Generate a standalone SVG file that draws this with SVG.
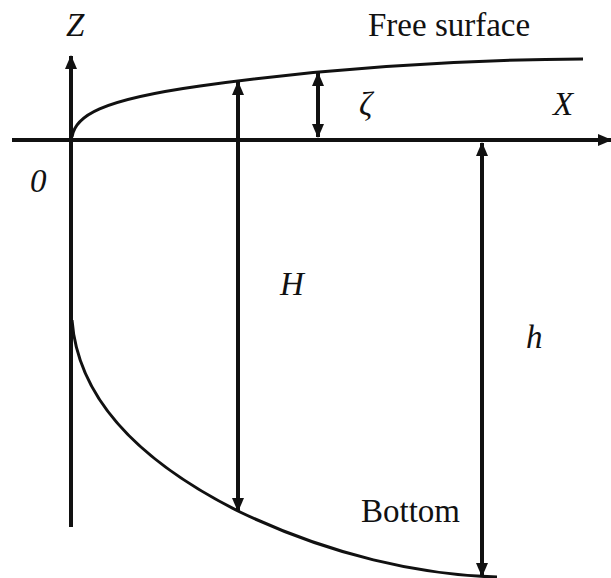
<svg xmlns="http://www.w3.org/2000/svg" width="611" height="578" viewBox="0 0 611 578">
<style>
.ln{stroke:#111;stroke-width:4;fill:none}
.cv{stroke:#111;stroke-width:3;fill:none}
.t{font-family:'Liberation Serif','Times New Roman',Times,serif;font-size:33px;fill:#111}
.i{font-style:italic}
</style>
<defs>
<marker id="ah" viewBox="0 0 14 12" refX="13" refY="6" markerWidth="14" markerHeight="12" markerUnits="userSpaceOnUse" orient="auto-start-reverse">
<path d="M0,0 L14,6 L0,12 Z" fill="#111"/>
</marker>
</defs>
<rect width="611" height="578" fill="#fff"/>
<g id="axes">
<line class="ln" x1="71" y1="527" x2="71" y2="56" marker-end="url(#ah)"/>
<line class="ln" x1="12" y1="140" x2="611" y2="140" marker-end="url(#ah)"/>
</g>
<g id="free-surface">
<path class="cv" d="M72,137 C75,116 100,100 200,86 C300,72 430,60 583,59"/>
<text class="t" x="368" y="36">Free surface</text>
</g>
<g id="bottom">
<path class="cv" d="M72,320 C78,400 140,462 240,512 C330,555 420,575 497,577"/>
<text class="t" x="361" y="522">Bottom</text>
</g>
<g id="connectors">
<line class="ln" x1="318" y1="73" x2="318" y2="137" marker-start="url(#ah)" marker-end="url(#ah)"/>
<line class="ln" x1="238" y1="82" x2="238" y2="511" marker-start="url(#ah)" marker-end="url(#ah)"/>
<line class="ln" x1="482" y1="143" x2="482" y2="576" marker-start="url(#ah)" marker-end="url(#ah)"/>
</g>
<g id="labels">
<text class="t i" x="66" y="36">Z</text>
<text class="t i" x="30" y="192">0</text>
<text class="t i" x="553" y="115">X</text>
<text class="t i" x="359" y="115">ζ</text>
<text class="t i" x="280" y="295">H</text>
<text class="t i" x="526" y="348">h</text>
</g>
</svg>
